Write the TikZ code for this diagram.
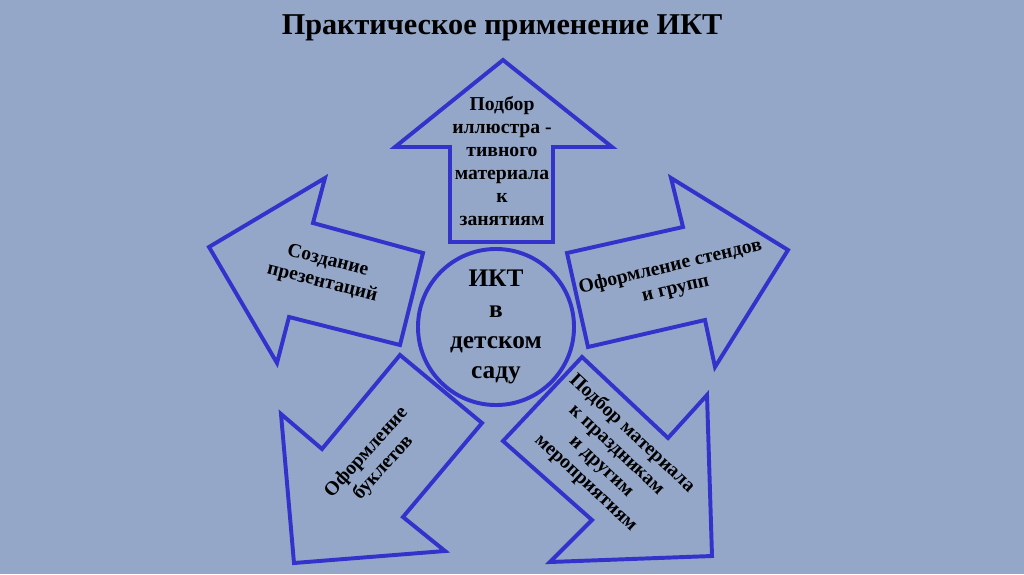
\documentclass[tikz,border=0pt]{standalone}
\usepackage{fontspec}
\setmainfont{Liberation Serif}
\definecolor{bgblue}{RGB}{148,167,200}
\definecolor{lineblue}{RGB}{51,51,204}
\tikzset{
  arrowbox/.style={draw=lineblue, line width=2.8pt, line join=miter},
  lbl/.style={align=center, inner sep=0pt, font=\fontsize{14}{16}\selectfont\bfseries},
}
\begin{document}
\begin{tikzpicture}[x=0.025cm, y=-0.025cm]
    % Background
    \fill[bgblue] (0,0) rectangle (1024,574);

    % Title
    \node[font=\fontsize{21.5}{24}\selectfont\bfseries] (title) at (502,28) {Практическое применение ИКТ};

    % Centre circle
    \node[circle, draw=lineblue, line width=2.8pt, minimum size=3.9cm, inner sep=0pt,
          align=center, font=\fontsize{18}{22}\selectfont\bfseries] (ikt) at (496,327)
          {ИКТ\\в\\детском\\саду};

    % Up arrow
    \draw[arrowbox] (503,60) -- (612,147) -- (553,147) -- (553,242) -- (450,242) -- (450,147) -- (395,147) -- cycle;
    % Left arrow
    \draw[arrowbox] (209,247) -- (325,178) -- (313,223) -- (423,253) -- (400,345) -- (289,317) -- (277,363) -- cycle;
    % Right arrow
    \draw[arrowbox] (788,250) -- (671,178) -- (683,227) -- (567,253) -- (588,347) -- (705,320) -- (715,367) -- cycle;
    % Bottom left arrow
    \draw[arrowbox] (294,563) -- (281,414) -- (322,449) -- (400,355) -- (482,423) -- (403,517) -- (445,551) -- cycle;
    % Bottom right arrow
    \draw[arrowbox] (712,556) -- (707,395) -- (668,438) -- (582,357) -- (503,441) -- (592,520) -- (550,562) -- cycle;

    % Labels in the arrows
    \node[lbl, font=\fontsize{14}{16.4}\selectfont\bfseries] (podbor) at (502,161)
          {Подбор\\иллюстра -\\тивного\\материала\\к\\занятиям};
    \node[lbl, rotate=-14] (prezent) at (325,272) {Создание\\презентаций};
    \node[lbl, rotate=13.5] (stendy) at (673,278) {Оформление стендов\\и групп};
    \node[lbl, rotate=48] (buklety) at (375,460) {Оформление\\буклетов};
    \node[lbl, rotate=-43] (prazdniki) at (609,458)
          {Подбор материала\\к праздникам\\и другим\\мероприятиям};
\end{tikzpicture}
\end{document}
